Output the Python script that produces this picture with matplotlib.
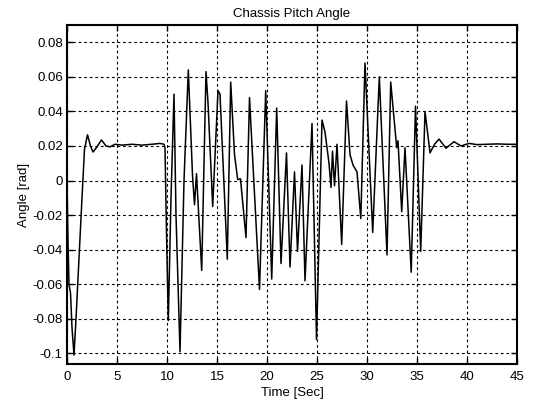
import matplotlib
matplotlib.use("Agg")
import matplotlib.pyplot as plt

# time [s] and chassis pitch angle [rad]
time_s = [0.0, 0.1, 0.2, 0.35, 0.5, 0.7, 0.9, 1.2, 1.5, 1.75, 2.05, 2.35, 2.6,
          3.0, 3.45, 3.9, 4.3, 4.8, 5.5, 6.5, 7.5, 8.5, 9.3, 9.7,
          9.8, 9.95, 10.13, 10.4, 10.7, 10.9, 11.3, 11.7, 12.13, 12.55, 12.75,
          12.95, 13.47, 13.9, 14.1, 14.57, 15.1, 15.3, 16.03, 16.37, 16.75,
          17.07, 17.35, 17.9, 18.25, 18.5, 19.25, 19.87, 20.47, 20.97, 21.4,
          21.95, 22.3, 22.75, 23.05, 23.5, 23.8, 24.5, 24.95, 25.5, 25.8,
          26.2, 26.4, 26.55, 26.75, 27.0, 27.47, 27.95, 28.3, 28.6, 29.0,
          29.38, 29.8, 30.57, 31.23, 32.0, 32.37, 32.97, 33.1, 33.47, 33.8,
          34.42, 34.85, 35.37, 35.8, 36.3, 36.75, 37.2, 37.9, 38.7, 39.4,
          40.2, 41.0, 42.0, 43.0, 44.0, 45.0]
pitch_rad = [0.0, -0.035, -0.06, -0.065, -0.085, -0.101, -0.08, -0.045, -0.01, 0.018,
             0.0265, 0.02, 0.0165, 0.0195, 0.0235, 0.02, 0.0195, 0.021, 0.0205, 0.021,
             0.0205, 0.021, 0.0215, 0.021,
             0.019, -0.03, -0.081, -0.01, 0.05, -0.02, -0.099, 0.0, 0.064, 0.003, -0.014,
             0.004, -0.052, 0.063, 0.045, -0.015, 0.052, 0.05, -0.0455, 0.057, 0.015,
             0.0006, 0.001, -0.033, 0.048, 0.02, -0.063, 0.052, -0.057, 0.042, -0.048,
             0.016, -0.05, 0.005, -0.041, 0.009, -0.058, 0.033, -0.092, 0.035, 0.028,
             0.01, -0.004, 0.017, -0.003, 0.021, -0.037, 0.046, 0.015, 0.009, 0.005,
             -0.022, 0.068, -0.03, 0.06, -0.043, 0.057, 0.019, 0.023, -0.018, 0.019,
             -0.053, 0.043, -0.041, 0.04, 0.016, 0.021, 0.024, 0.0187, 0.0225, 0.020,
             0.0215, 0.0208, 0.021, 0.0212, 0.021, 0.021]

x_ticks = [0, 5, 10, 15, 20, 25, 30, 35, 40, 45]
y_ticks = [0.08, 0.06, 0.04, 0.02, 0, -0.02, -0.04, -0.06, -0.08, -0.1]
y_tick_labels = ["0.08", "0.06", "0.04", "0.02", "0", "-0.02", "-0.04", "-0.06", "-0.08", "-0.1"]

plt.rcParams["font.family"] = ["Liberation Sans", "DejaVu Sans"]

fig = plt.figure(figsize=(5.33, 4.03), dpi=100)
ax = fig.add_axes([0.1257, 0.096, 0.8443, 0.842])

ax.plot(time_s, pitch_rad, color="black", linewidth=1.1)

ax.set_xlim(0, 45)
ax.set_ylim(-0.1063, 0.09)
ax.set_xticks(x_ticks)
ax.set_yticks(y_ticks)
ax.set_yticklabels(y_tick_labels)
ax.tick_params(direction="in", length=4, width=1, labelsize=9.5, pad=3,
               top=True, right=True, colors="black")
ax.tick_params(axis="x", pad=5)
ax.grid(True, color="black", linestyle=(0, (2.5, 2.5)), linewidth=0.8)
for s in ax.spines.values():
    s.set_linewidth(1.5)

ax.set_title("Chassis Pitch Angle", fontsize=9.5, pad=6)
ax.set_xlabel("Time [Sec]", fontsize=9.5, labelpad=3)
ax.set_ylabel("Angle [rad]", fontsize=9.5, labelpad=2)

fig.savefig("out.png", dpi=100)
